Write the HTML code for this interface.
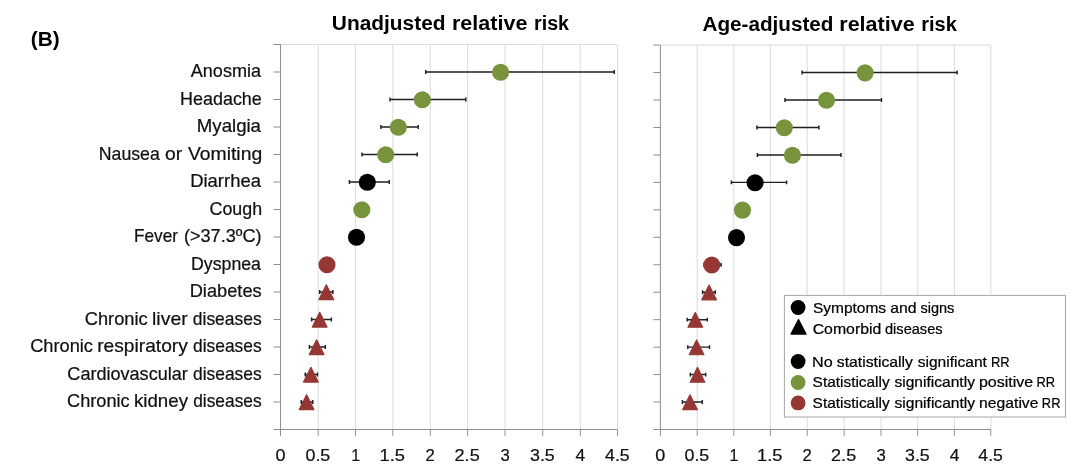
<!DOCTYPE html>
<html lang="en"><head><meta charset="utf-8"><title>Relative risk</title>
<style>html,body{margin:0;padding:0;background:#fff}svg{display:block}text{font-family:"Liberation Sans", sans-serif;}</style></head><body>
<svg width="1080" height="476" viewBox="0 0 1080 476">
<rect width="1080" height="476" fill="#fff"/>
<g stroke="#dfdfdf" stroke-width="1.15" fill="none">
<line x1="318.20" y1="44.5" x2="318.20" y2="429.5"/>
<line x1="355.50" y1="44.5" x2="355.50" y2="429.5"/>
<line x1="392.80" y1="44.5" x2="392.80" y2="429.5"/>
<line x1="430.30" y1="44.5" x2="430.30" y2="429.5"/>
<line x1="467.60" y1="44.5" x2="467.60" y2="429.5"/>
<line x1="505.05" y1="44.5" x2="505.05" y2="429.5"/>
<line x1="542.70" y1="44.5" x2="542.70" y2="429.5"/>
<line x1="580.30" y1="44.5" x2="580.30" y2="429.5"/>
<line x1="617.55" y1="44.5" x2="617.55" y2="429.5"/>
<line x1="280.50" y1="44.5" x2="617.55" y2="44.5"/>
</g>
<g stroke="#8f8f8f" stroke-width="1" fill="none">
<line x1="280.50" y1="44.5" x2="280.50" y2="429.5"/>
<line x1="273.50" y1="429.5" x2="617.55" y2="429.5"/>
<line x1="280.50" y1="429.5" x2="280.50" y2="435.8"/>
<line x1="318.20" y1="429.5" x2="318.20" y2="435.8"/>
<line x1="355.50" y1="429.5" x2="355.50" y2="435.8"/>
<line x1="392.80" y1="429.5" x2="392.80" y2="435.8"/>
<line x1="430.30" y1="429.5" x2="430.30" y2="435.8"/>
<line x1="467.60" y1="429.5" x2="467.60" y2="435.8"/>
<line x1="505.05" y1="429.5" x2="505.05" y2="435.8"/>
<line x1="542.70" y1="429.5" x2="542.70" y2="435.8"/>
<line x1="580.30" y1="429.5" x2="580.30" y2="435.8"/>
<line x1="617.55" y1="429.5" x2="617.55" y2="435.8"/>
</g>
<g stroke="#8f8f8f" stroke-width="1" fill="none">
<line x1="273.50" y1="44.50" x2="280.50" y2="44.50"/>
<line x1="273.50" y1="72.00" x2="280.50" y2="72.00"/>
<line x1="273.50" y1="99.50" x2="280.50" y2="99.50"/>
<line x1="273.50" y1="127.00" x2="280.50" y2="127.00"/>
<line x1="273.50" y1="154.50" x2="280.50" y2="154.50"/>
<line x1="273.50" y1="182.00" x2="280.50" y2="182.00"/>
<line x1="273.50" y1="209.50" x2="280.50" y2="209.50"/>
<line x1="273.50" y1="237.00" x2="280.50" y2="237.00"/>
<line x1="273.50" y1="264.50" x2="280.50" y2="264.50"/>
<line x1="273.50" y1="292.00" x2="280.50" y2="292.00"/>
<line x1="273.50" y1="319.50" x2="280.50" y2="319.50"/>
<line x1="273.50" y1="347.00" x2="280.50" y2="347.00"/>
<line x1="273.50" y1="374.50" x2="280.50" y2="374.50"/>
<line x1="273.50" y1="402.00" x2="280.50" y2="402.00"/>
</g>
<g stroke="#dfdfdf" stroke-width="1.15" fill="none">
<line x1="697.20" y1="45.1" x2="697.20" y2="429.5"/>
<line x1="733.80" y1="45.1" x2="733.80" y2="429.5"/>
<line x1="770.40" y1="45.1" x2="770.40" y2="429.5"/>
<line x1="807.20" y1="45.1" x2="807.20" y2="429.5"/>
<line x1="844.10" y1="45.1" x2="844.10" y2="429.5"/>
<line x1="881.00" y1="45.1" x2="881.00" y2="429.5"/>
<line x1="917.70" y1="45.1" x2="917.70" y2="429.5"/>
<line x1="954.40" y1="45.1" x2="954.40" y2="429.5"/>
<line x1="990.80" y1="45.1" x2="990.80" y2="429.5"/>
<line x1="660.40" y1="45.1" x2="990.80" y2="45.1"/>
</g>
<g stroke="#8f8f8f" stroke-width="1" fill="none">
<line x1="660.40" y1="45.1" x2="660.40" y2="429.5"/>
<line x1="653.40" y1="429.5" x2="990.80" y2="429.5"/>
<line x1="660.40" y1="429.5" x2="660.40" y2="435.8"/>
<line x1="697.20" y1="429.5" x2="697.20" y2="435.8"/>
<line x1="733.80" y1="429.5" x2="733.80" y2="435.8"/>
<line x1="770.40" y1="429.5" x2="770.40" y2="435.8"/>
<line x1="807.20" y1="429.5" x2="807.20" y2="435.8"/>
<line x1="844.10" y1="429.5" x2="844.10" y2="435.8"/>
<line x1="881.00" y1="429.5" x2="881.00" y2="435.8"/>
<line x1="917.70" y1="429.5" x2="917.70" y2="435.8"/>
<line x1="954.40" y1="429.5" x2="954.40" y2="435.8"/>
<line x1="990.80" y1="429.5" x2="990.80" y2="435.8"/>
</g>
<g stroke="#8f8f8f" stroke-width="1" fill="none">
<line x1="653.40" y1="45.10" x2="660.40" y2="45.10"/>
<line x1="653.40" y1="72.56" x2="660.40" y2="72.56"/>
<line x1="653.40" y1="100.01" x2="660.40" y2="100.01"/>
<line x1="653.40" y1="127.47" x2="660.40" y2="127.47"/>
<line x1="653.40" y1="154.93" x2="660.40" y2="154.93"/>
<line x1="653.40" y1="182.38" x2="660.40" y2="182.38"/>
<line x1="653.40" y1="209.84" x2="660.40" y2="209.84"/>
<line x1="653.40" y1="237.30" x2="660.40" y2="237.30"/>
<line x1="653.40" y1="264.76" x2="660.40" y2="264.76"/>
<line x1="653.40" y1="292.21" x2="660.40" y2="292.21"/>
<line x1="653.40" y1="319.67" x2="660.40" y2="319.67"/>
<line x1="653.40" y1="347.13" x2="660.40" y2="347.13"/>
<line x1="653.40" y1="374.58" x2="660.40" y2="374.58"/>
<line x1="653.40" y1="402.04" x2="660.40" y2="402.04"/>
</g>
<path d="M425.70,72.00H614.30M425.70,70.05v3.9M614.30,70.05v3.9" stroke="#1f1f1f" stroke-width="1.45" fill="none"/>
<circle cx="500.60" cy="72.30" r="8.55" fill="#77933c"/>
<path d="M390.00,99.50H465.80M390.00,97.55v3.9M465.80,97.55v3.9" stroke="#1f1f1f" stroke-width="1.45" fill="none"/>
<circle cx="422.30" cy="99.80" r="8.55" fill="#77933c"/>
<path d="M380.90,127.00H418.20M380.90,125.05v3.9M418.20,125.05v3.9" stroke="#1f1f1f" stroke-width="1.45" fill="none"/>
<circle cx="398.30" cy="127.30" r="8.55" fill="#77933c"/>
<path d="M362.00,154.50H417.20M362.00,152.55v3.9M417.20,152.55v3.9" stroke="#1f1f1f" stroke-width="1.45" fill="none"/>
<circle cx="385.70" cy="154.80" r="8.55" fill="#77933c"/>
<path d="M349.40,182.00H389.20M349.40,180.05v3.9M389.20,180.05v3.9" stroke="#1f1f1f" stroke-width="1.45" fill="none"/>
<circle cx="367.30" cy="182.30" r="8.55" fill="#000000"/>
<circle cx="361.80" cy="209.80" r="8.55" fill="#77933c"/>
<circle cx="356.50" cy="237.30" r="8.55" fill="#000000"/>
<circle cx="327.00" cy="264.80" r="8.55" fill="#953735"/>
<path d="M319.60,292.00H332.90M319.60,290.05v3.9M332.90,290.05v3.9" stroke="#1f1f1f" stroke-width="1.45" fill="none"/>
<polygon points="326.30,284.80 333.62,299.60 318.98,299.60" fill="#953735" stroke="#953735" stroke-width="1.2" stroke-linejoin="round"/>
<path d="M311.60,319.50H331.40M311.60,317.55v3.9M331.40,317.55v3.9" stroke="#1f1f1f" stroke-width="1.45" fill="none"/>
<polygon points="319.70,312.30 327.02,327.10 312.38,327.10" fill="#953735" stroke="#953735" stroke-width="1.2" stroke-linejoin="round"/>
<path d="M309.40,347.00H325.30M309.40,345.05v3.9M325.30,345.05v3.9" stroke="#1f1f1f" stroke-width="1.45" fill="none"/>
<polygon points="316.60,339.80 323.92,354.60 309.28,354.60" fill="#953735" stroke="#953735" stroke-width="1.2" stroke-linejoin="round"/>
<path d="M305.20,374.50H317.50M305.20,372.55v3.9M317.50,372.55v3.9" stroke="#1f1f1f" stroke-width="1.45" fill="none"/>
<polygon points="310.90,367.30 318.22,382.10 303.58,382.10" fill="#953735" stroke="#953735" stroke-width="1.2" stroke-linejoin="round"/>
<path d="M301.20,402.00H312.80M301.20,400.05v3.9M312.80,400.05v3.9" stroke="#1f1f1f" stroke-width="1.45" fill="none"/>
<polygon points="306.60,394.80 313.92,409.60 299.28,409.60" fill="#953735" stroke="#953735" stroke-width="1.2" stroke-linejoin="round"/>
<path d="M802.10,72.56H957.10M802.10,70.61v3.9M957.10,70.61v3.9" stroke="#1f1f1f" stroke-width="1.45" fill="none"/>
<circle cx="865.10" cy="72.86" r="8.55" fill="#77933c"/>
<path d="M785.00,100.01H881.50M785.00,98.06v3.9M881.50,98.06v3.9" stroke="#1f1f1f" stroke-width="1.45" fill="none"/>
<circle cx="826.50" cy="100.31" r="8.55" fill="#77933c"/>
<path d="M756.90,127.47H818.90M756.90,125.52v3.9M818.90,125.52v3.9" stroke="#1f1f1f" stroke-width="1.45" fill="none"/>
<circle cx="784.30" cy="127.77" r="8.55" fill="#77933c"/>
<path d="M757.40,154.93H841.00M757.40,152.98v3.9M841.00,152.98v3.9" stroke="#1f1f1f" stroke-width="1.45" fill="none"/>
<circle cx="792.40" cy="155.23" r="8.55" fill="#77933c"/>
<path d="M731.40,182.38H786.60M731.40,180.44v3.9M786.60,180.44v3.9" stroke="#1f1f1f" stroke-width="1.45" fill="none"/>
<circle cx="755.10" cy="182.69" r="8.55" fill="#000000"/>
<circle cx="742.50" cy="210.14" r="8.55" fill="#77933c"/>
<circle cx="736.50" cy="237.60" r="8.55" fill="#000000"/>
<path d="M704.00,264.76H721.10M704.00,262.81v3.9M721.10,262.81v3.9" stroke="#1f1f1f" stroke-width="1.45" fill="none"/>
<circle cx="711.80" cy="265.06" r="8.55" fill="#953735"/>
<path d="M702.60,292.21H715.30M702.60,290.26v3.9M715.30,290.26v3.9" stroke="#1f1f1f" stroke-width="1.45" fill="none"/>
<polygon points="709.10,285.01 716.42,299.81 701.78,299.81" fill="#953735" stroke="#953735" stroke-width="1.2" stroke-linejoin="round"/>
<path d="M687.20,319.67H707.30M687.20,317.72v3.9M707.30,317.72v3.9" stroke="#1f1f1f" stroke-width="1.45" fill="none"/>
<polygon points="695.30,312.47 702.62,327.27 687.98,327.27" fill="#953735" stroke="#953735" stroke-width="1.2" stroke-linejoin="round"/>
<path d="M687.80,347.13H709.50M687.80,345.18v3.9M709.50,345.18v3.9" stroke="#1f1f1f" stroke-width="1.45" fill="none"/>
<polygon points="696.60,339.93 703.92,354.73 689.28,354.73" fill="#953735" stroke="#953735" stroke-width="1.2" stroke-linejoin="round"/>
<path d="M690.30,374.58H705.70M690.30,372.63v3.9M705.70,372.63v3.9" stroke="#1f1f1f" stroke-width="1.45" fill="none"/>
<polygon points="697.50,367.38 704.82,382.18 690.18,382.18" fill="#953735" stroke="#953735" stroke-width="1.2" stroke-linejoin="round"/>
<path d="M682.40,402.04H702.30M682.40,400.09v3.9M702.30,400.09v3.9" stroke="#1f1f1f" stroke-width="1.45" fill="none"/>
<polygon points="690.00,394.84 697.32,409.64 682.68,409.64" fill="#953735" stroke="#953735" stroke-width="1.2" stroke-linejoin="round"/>
<rect x="784.4" y="295.4" width="281.1" height="121.6" fill="#fff" stroke="#a6a6a6" stroke-width="1"/>
<circle cx="798.1" cy="307.5" r="7.4" fill="#000"/>
<polygon points="798.50,319.80 805.86,334.00 791.14,334.00" fill="#000" stroke="#000" stroke-width="1.6" stroke-linejoin="round"/>
<circle cx="798.1" cy="361.5" r="7.4" fill="#000"/>
<circle cx="798.1" cy="382.5" r="7.4" fill="#77933c"/>
<circle cx="798.1" cy="402.9" r="7.4" fill="#953735"/>
<text y="46.40" font-size="20" font-weight="bold" fill="#000"><tspan x="30.72" textLength="28.93" lengthAdjust="spacingAndGlyphs">(B)</tspan></text>
<text y="30.10" font-size="20" font-weight="bold" fill="#000"><tspan x="331.82" textLength="113.71" lengthAdjust="spacingAndGlyphs">Unadjusted</tspan> <tspan x="451.95" textLength="75.48" lengthAdjust="spacingAndGlyphs">relative</tspan> <tspan x="534.07" textLength="35.00" lengthAdjust="spacingAndGlyphs">risk</tspan></text>
<text y="30.70" font-size="20" font-weight="bold" fill="#000"><tspan x="702.48" textLength="131.05" lengthAdjust="spacingAndGlyphs">Age-adjusted</tspan> <tspan x="839.25" textLength="75.48" lengthAdjust="spacingAndGlyphs">relative</tspan> <tspan x="921.25" textLength="35.62" lengthAdjust="spacingAndGlyphs">risk</tspan></text>
<text y="77.40" font-size="17.8" fill="#111" stroke="#111" stroke-width="0.22"><tspan x="190.80" textLength="70.19" lengthAdjust="spacingAndGlyphs">Anosmia</tspan></text>
<text y="104.90" font-size="17.8" fill="#111" stroke="#111" stroke-width="0.22"><tspan x="180.10" textLength="81.73" lengthAdjust="spacingAndGlyphs">Headache</tspan></text>
<text y="132.40" font-size="17.8" fill="#111" stroke="#111" stroke-width="0.22"><tspan x="196.85" textLength="64.14" lengthAdjust="spacingAndGlyphs">Myalgia</tspan></text>
<text y="159.90" font-size="17.8" fill="#111" stroke="#111" stroke-width="0.22"><tspan x="98.82" textLength="60.99" lengthAdjust="spacingAndGlyphs">Nausea</tspan> <tspan x="165.08" textLength="17.18" lengthAdjust="spacingAndGlyphs">or</tspan> <tspan x="187.93" textLength="74.25" lengthAdjust="spacingAndGlyphs">Vomiting</tspan></text>
<text y="187.40" font-size="17.8" fill="#111" stroke="#111" stroke-width="0.22"><tspan x="190.16" textLength="70.83" lengthAdjust="spacingAndGlyphs">Diarrhea</tspan></text>
<text y="214.90" font-size="17.8" fill="#111" stroke="#111" stroke-width="0.22"><tspan x="209.56" textLength="52.54" lengthAdjust="spacingAndGlyphs">Cough</tspan></text>
<text y="242.40" font-size="17.8" fill="#111" stroke="#111" stroke-width="0.22"><tspan x="133.95" textLength="44.03" lengthAdjust="spacingAndGlyphs">Fever</tspan> <tspan x="183.95" textLength="77.59" lengthAdjust="spacingAndGlyphs">(&gt;37.3ºC)</tspan></text>
<text y="269.90" font-size="17.8" fill="#111" stroke="#111" stroke-width="0.22"><tspan x="191.01" textLength="69.97" lengthAdjust="spacingAndGlyphs">Dyspnea</tspan></text>
<text y="297.40" font-size="17.8" fill="#111" stroke="#111" stroke-width="0.22"><tspan x="189.67" textLength="72.00" lengthAdjust="spacingAndGlyphs">Diabetes</tspan></text>
<text y="324.90" font-size="17.8" fill="#111" stroke="#111" stroke-width="0.22"><tspan x="84.74" textLength="62.98" lengthAdjust="spacingAndGlyphs">Chronic</tspan> <tspan x="152.00" textLength="35.70" lengthAdjust="spacingAndGlyphs">liver</tspan> <tspan x="192.84" textLength="68.81" lengthAdjust="spacingAndGlyphs">diseases</tspan></text>
<text y="352.40" font-size="17.8" fill="#111" stroke="#111" stroke-width="0.22"><tspan x="30.15" textLength="62.81" lengthAdjust="spacingAndGlyphs">Chronic</tspan> <tspan x="97.24" textLength="90.57" lengthAdjust="spacingAndGlyphs">respiratory</tspan> <tspan x="193.03" textLength="68.62" lengthAdjust="spacingAndGlyphs">diseases</tspan></text>
<text y="379.90" font-size="17.8" fill="#111" stroke="#111" stroke-width="0.22"><tspan x="67.35" textLength="120.46" lengthAdjust="spacingAndGlyphs">Cardiovascular</tspan> <tspan x="192.96" textLength="68.69" lengthAdjust="spacingAndGlyphs">diseases</tspan></text>
<text y="407.40" font-size="17.8" fill="#111" stroke="#111" stroke-width="0.22"><tspan x="67.05" textLength="62.62" lengthAdjust="spacingAndGlyphs">Chronic</tspan> <tspan x="133.97" textLength="54.05" lengthAdjust="spacingAndGlyphs">kidney</tspan> <tspan x="193.23" textLength="68.41" lengthAdjust="spacingAndGlyphs">diseases</tspan></text>
<text y="461.20" font-size="17.4" fill="#111" stroke="#111" stroke-width="0.22"><tspan x="275.44" textLength="10.01" lengthAdjust="spacingAndGlyphs">0</tspan></text>
<text y="461.20" font-size="17.4" fill="#111" stroke="#111" stroke-width="0.22"><tspan x="305.49" textLength="24.78" lengthAdjust="spacingAndGlyphs">0.5</tspan></text>
<text y="461.20" font-size="17.4" fill="#111" stroke="#111" stroke-width="0.22"><tspan x="351.31" textLength="8.84" lengthAdjust="spacingAndGlyphs">1</tspan></text>
<text y="461.20" font-size="17.4" fill="#111" stroke="#111" stroke-width="0.22"><tspan x="379.51" textLength="25.38" lengthAdjust="spacingAndGlyphs">1.5</tspan></text>
<text y="461.20" font-size="17.4" fill="#111" stroke="#111" stroke-width="0.22"><tspan x="425.62" textLength="9.25" lengthAdjust="spacingAndGlyphs">2</tspan></text>
<text y="461.20" font-size="17.4" fill="#111" stroke="#111" stroke-width="0.22"><tspan x="454.60" textLength="25.08" lengthAdjust="spacingAndGlyphs">2.5</tspan></text>
<text y="461.20" font-size="17.4" fill="#111" stroke="#111" stroke-width="0.22"><tspan x="500.48" textLength="9.30" lengthAdjust="spacingAndGlyphs">3</tspan></text>
<text y="461.20" font-size="17.4" fill="#111" stroke="#111" stroke-width="0.22"><tspan x="529.99" textLength="24.78" lengthAdjust="spacingAndGlyphs">3.5</tspan></text>
<text y="461.20" font-size="17.4" fill="#111" stroke="#111" stroke-width="0.22"><tspan x="575.53" textLength="9.71" lengthAdjust="spacingAndGlyphs">4</tspan></text>
<text y="461.20" font-size="17.4" fill="#111" stroke="#111" stroke-width="0.22"><tspan x="605.12" textLength="24.49" lengthAdjust="spacingAndGlyphs">4.5</tspan></text>
<text y="461.20" font-size="17.4" fill="#111" stroke="#111" stroke-width="0.22"><tspan x="655.34" textLength="10.01" lengthAdjust="spacingAndGlyphs">0</tspan></text>
<text y="461.20" font-size="17.4" fill="#111" stroke="#111" stroke-width="0.22"><tspan x="684.49" textLength="24.78" lengthAdjust="spacingAndGlyphs">0.5</tspan></text>
<text y="461.20" font-size="17.4" fill="#111" stroke="#111" stroke-width="0.22"><tspan x="729.61" textLength="8.84" lengthAdjust="spacingAndGlyphs">1</tspan></text>
<text y="461.20" font-size="17.4" fill="#111" stroke="#111" stroke-width="0.22"><tspan x="757.11" textLength="25.38" lengthAdjust="spacingAndGlyphs">1.5</tspan></text>
<text y="461.20" font-size="17.4" fill="#111" stroke="#111" stroke-width="0.22"><tspan x="802.52" textLength="9.25" lengthAdjust="spacingAndGlyphs">2</tspan></text>
<text y="461.20" font-size="17.4" fill="#111" stroke="#111" stroke-width="0.22"><tspan x="831.10" textLength="25.08" lengthAdjust="spacingAndGlyphs">2.5</tspan></text>
<text y="461.20" font-size="17.4" fill="#111" stroke="#111" stroke-width="0.22"><tspan x="876.43" textLength="9.30" lengthAdjust="spacingAndGlyphs">3</tspan></text>
<text y="461.20" font-size="17.4" fill="#111" stroke="#111" stroke-width="0.22"><tspan x="904.99" textLength="24.78" lengthAdjust="spacingAndGlyphs">3.5</tspan></text>
<text y="461.20" font-size="17.4" fill="#111" stroke="#111" stroke-width="0.22"><tspan x="949.63" textLength="9.71" lengthAdjust="spacingAndGlyphs">4</tspan></text>
<text y="461.20" font-size="17.4" fill="#111" stroke="#111" stroke-width="0.22"><tspan x="978.37" textLength="24.49" lengthAdjust="spacingAndGlyphs">4.5</tspan></text>
<text y="312.70" font-size="14.8" fill="#000" stroke="#000" stroke-width="0.22"><tspan x="812.92" textLength="73.18" lengthAdjust="spacingAndGlyphs">Symptoms</tspan> <tspan x="890.18" textLength="26.37" lengthAdjust="spacingAndGlyphs">and</tspan> <tspan x="920.51" textLength="33.85" lengthAdjust="spacingAndGlyphs">signs</tspan></text>
<text y="333.60" font-size="14.8" fill="#000" stroke="#000" stroke-width="0.22"><tspan x="812.66" textLength="68.67" lengthAdjust="spacingAndGlyphs">Comorbid</tspan> <tspan x="885.03" textLength="57.53" lengthAdjust="spacingAndGlyphs">diseases</tspan></text>
<text y="366.50" font-size="14.8" fill="#000" stroke="#000" stroke-width="0.22"><tspan x="812.14" textLength="20.60" lengthAdjust="spacingAndGlyphs">No</tspan> <tspan x="836.87" textLength="76.00" lengthAdjust="spacingAndGlyphs">statistically</tspan> <tspan x="917.66" textLength="69.24" lengthAdjust="spacingAndGlyphs">significant</tspan> <tspan x="990.98" textLength="18.67" lengthAdjust="spacingAndGlyphs">RR</tspan></text>
<text y="387.40" font-size="14.8" fill="#000" stroke="#000" stroke-width="0.22"><tspan x="812.62" textLength="77.05" lengthAdjust="spacingAndGlyphs">Statistically</tspan> <tspan x="894.44" textLength="80.50" lengthAdjust="spacingAndGlyphs">significantly</tspan> <tspan x="978.95" textLength="54.25" lengthAdjust="spacingAndGlyphs">positive</tspan> <tspan x="1036.56" textLength="18.58" lengthAdjust="spacingAndGlyphs">RR</tspan></text>
<text y="408.00" font-size="14.8" fill="#000" stroke="#000" stroke-width="0.22"><tspan x="812.62" textLength="77.13" lengthAdjust="spacingAndGlyphs">Statistically</tspan> <tspan x="894.52" textLength="80.58" lengthAdjust="spacingAndGlyphs">significantly</tspan> <tspan x="979.14" textLength="59.33" lengthAdjust="spacingAndGlyphs">negative</tspan> <tspan x="1041.84" textLength="18.60" lengthAdjust="spacingAndGlyphs">RR</tspan></text>
</svg></body></html>
